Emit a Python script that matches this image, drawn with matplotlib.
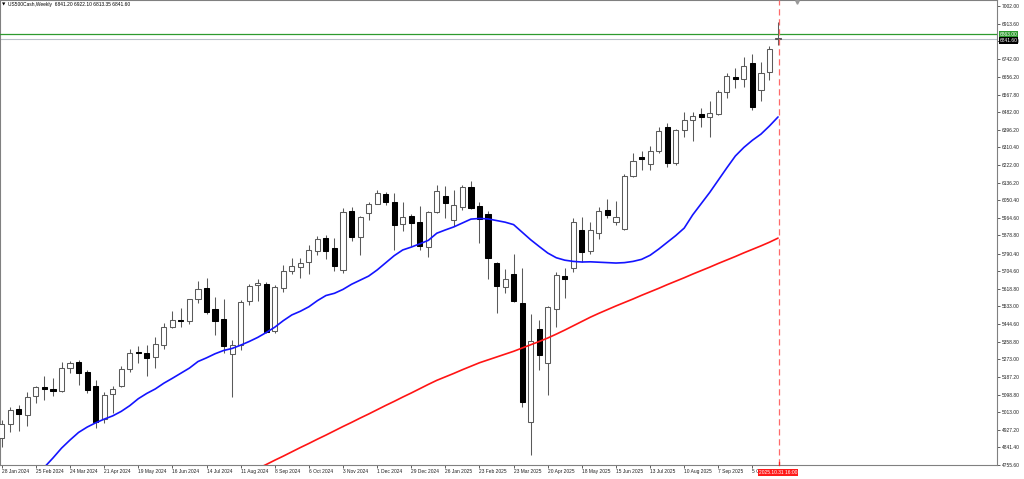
import numpy as np
import matplotlib
matplotlib.use("Agg")
import matplotlib.pyplot as plt
import matplotlib.transforms as mtransforms

plt.rcParams['font.family'] = ['Liberation Sans', 'DejaVu Sans']

# ---------------- data ----------------
symbol_title = "US500Cash,Weekly  6841.20 6922.10 6813.35 6841.60"

opens = [4886, 4958, 5028, 5000, 5093, 5135, 5128, 5120, 5232, 5262,
         5211, 5140, 4980, 5103, 5142, 5225, 5307, 5305, 5285, 5343,
         5431, 5466, 5462, 5567, 5620, 5520, 5470, 5300, 5345, 5557,
         5637, 5640, 5410, 5620, 5703, 5726, 5748, 5805, 5868, 5817,
         5712, 5998, 5872, 5990, 6035, 6082, 6045, 5935, 5974, 5945,
         5822, 5995, 6070, 5955, 6020, 6118, 6023, 5985, 5745, 5625,
         5690, 5548, 4966, 5421, 5254, 5519, 5680, 5720, 5905, 5805,
         5890, 6003, 5945, 5910, 6170, 6262, 6228, 6292, 6410, 6235,
         6395, 6444, 6473, 6460, 6475, 6582, 6656, 6645, 6725, 6590,
         6680, 6841.2]
highs = [4975, 5040, 5048, 5111, 5140, 5189, 5180, 5262, 5265, 5270,
         5222, 5170, 5114, 5140, 5239, 5325, 5340, 5345, 5380, 5450,
         5510, 5524, 5570, 5655, 5669, 5580, 5566, 5365, 5563, 5643,
         5665, 5650, 5636, 5733, 5768, 5768, 5830, 5878, 5880, 5868,
         6012, 6018, 5972, 6044, 6099, 6090, 6085, 6045, 5983, 6021,
         6000, 6128, 6120, 6101, 6127, 6147, 6044, 6000, 5750, 5715,
         5788, 5720, 5494, 5465, 5532, 5700, 5720, 5965, 5970, 5944,
         6016, 6059, 6050, 6180, 6284, 6290, 6315, 6410, 6427, 6400,
         6481, 6482, 6505, 6535, 6592, 6675, 6700, 6750, 6765, 6730,
         6808, 6922.1]
lows = [4845, 4918, 4920, 4947, 5057, 5075, 5095, 5112, 5205, 5146,
        5107, 4935, 4963, 5011, 5135, 5211, 5257, 5192, 5232, 5324,
        5424, 5433, 5448, 5546, 5497, 5390, 5302, 5090, 5318, 5538,
        5560, 5402, 5400, 5604, 5690, 5672, 5690, 5784, 5762, 5703,
        5696, 5853, 5783, 5957, 6031, 6029, 5810, 5900, 5829, 5809,
        5773, 5990, 5962, 5923, 6004, 6008, 5842, 5665, 5500, 5595,
        5553, 5040, 4804, 5220, 5098, 5430, 5575, 5700, 5750, 5790,
        5861, 5963, 5930, 5905, 6165, 6201, 6200, 6281, 6212, 6225,
        6360, 6343, 6410, 6362, 6470, 6550, 6603, 6607, 6495, 6537,
        6640, 6813.35]
closes = [4955, 5026, 5004, 5089, 5137, 5128, 5117, 5232, 5254, 5204,
          5123, 4967, 5100, 5128, 5223, 5303, 5304, 5280, 5347, 5431,
          5465, 5460, 5567, 5615, 5505, 5459, 5340, 5342, 5554, 5634,
          5648, 5408, 5626, 5703, 5730, 5746, 5810, 5862, 5805, 5729,
          5995, 5870, 5969, 6032, 6088, 6045, 5931, 5970, 5942, 5825,
          5995, 6095, 6040, 6026, 6115, 6013, 5958, 5770, 5630, 5668,
          5560, 5064, 5362, 5294, 5528, 5685, 5666, 5945, 5800, 5905,
          6000, 5977, 5968, 6168, 6245, 6255, 6292, 6390, 6233, 6395,
          6444, 6463, 6458, 6480, 6582, 6658, 6645, 6710, 6510, 6672,
          6790, 6841.6]

# blue moving average (starts at bar 4; earlier part lies below the view)
ma_blue_start = 4
ma_blue = [4700, 4745, 4790, 4838, 4878, 4915, 4941, 4962, 4980, 4996,
           5018, 5046, 5080, 5106, 5128, 5156, 5180, 5205, 5230, 5262,
           5280, 5300, 5316, 5326, 5342, 5360, 5380, 5404, 5430, 5462,
           5490, 5508, 5530, 5560, 5585, 5596, 5615, 5640, 5660, 5680,
           5710, 5745, 5780, 5808, 5822, 5838, 5855, 5890, 5906, 5921,
           5940, 5959, 5962, 5960, 5952, 5944, 5932, 5895, 5858, 5825,
           5793, 5770, 5758, 5752, 5749, 5750, 5748, 5746, 5744, 5746,
           5752, 5762, 5782, 5812, 5845, 5878, 5915, 5980, 6035, 6090,
           6150, 6210, 6268, 6310, 6345, 6375, 6415, 6459]

# red moving average (starts at bar 29; earlier part lies below the view)
ma_red_start = 29
ma_red = [4717, 4738, 4758, 4779, 4799, 4820, 4841, 4861, 4882, 4902,
          4923, 4944, 4964, 4985, 5005, 5026, 5047, 5067, 5088, 5108,
          5129, 5150, 5170, 5187, 5204, 5222, 5239, 5256, 5270, 5284,
          5298, 5312, 5328, 5344, 5360, 5377, 5396, 5416, 5437, 5458,
          5479, 5498, 5516, 5534, 5551, 5568, 5586, 5603, 5620, 5638,
          5655, 5672, 5690, 5707, 5724, 5742, 5759, 5776, 5794, 5811,
          5828, 5846, 5866]

hline_level = 6863.00
bid_level = 6841.60

y_tick_values = [7002.00, 6913.60, 6828.80, 6742.00, 6656.20, 6567.80, 6482.00,
                 6396.20, 6310.40, 6222.00, 6136.20, 6050.40, 5964.60, 5878.80,
                 5790.40, 5704.60, 5618.80, 5533.00, 5444.60, 5358.80, 5273.00,
                 5187.20, 5098.80, 5013.00, 4927.20, 4841.40, 4755.60]

x_tick_bars = [0, 4, 8, 12, 16, 20, 24, 28, 32, 36, 40, 44, 48, 52, 56, 60,
               64, 68, 72, 76, 80, 84, 88]
x_tick_labels = ["28 Jan 2024", "25 Feb 2024", "24 Mar 2024", "21 Apr 2024",
                 "19 May 2024", "16 Jun 2024", "14 Jul 2024", "11 Aug 2024",
                 "8 Sep 2024", "6 Oct 2024", "3 Nov 2024", "1 Dec 2024",
                 "29 Dec 2024", "26 Jan 2025", "23 Feb 2025", "23 Mar 2025",
                 "20 Apr 2025", "18 May 2025", "15 Jun 2025", "13 Jul 2025",
                 "10 Aug 2025", "7 Sep 2025", "5 Oct 2025"]
time_label = "2025.10.31 16:00"

# ---------------- figure ----------------
W, H = 1024, 479
fig = plt.figure(figsize=(W / 100, H / 100), dpi=100)
fig.patch.set_facecolor('white')
ax = fig.add_axes([0 / W, 14 / H, 997 / W, 465 / H])
ax.set_facecolor('white')

px_per_bar = 8.53
ax.set_xlim(-1.8 / px_per_bar, (997 - 1.8) / px_per_bar)
ax.set_ylim(4757.0, 7031.3)

o = np.array(opens, float)
h = np.array(highs, float)
l = np.array(lows, float)
c = np.array(closes, float)
idx = np.arange(len(o))

wick_col = '#5a5a5a'
# wicks
ax.vlines(idx, l, h, colors=wick_col, linewidth=0.75, zorder=2)
# bodies
up = c >= o
bottom = np.minimum(o, c)
height = np.maximum(np.abs(c - o), 3.0)
ax.bar(idx[up], height[up], bottom=bottom[up], width=0.6,
       color='white', edgecolor=wick_col, linewidth=0.75, zorder=3)
ax.bar(idx[~up], height[~up], bottom=bottom[~up], width=0.6,
       color='black', edgecolor='black', linewidth=0.75, zorder=3)

# moving averages
ax.plot(np.arange(ma_blue_start, ma_blue_start + len(ma_blue)), ma_blue,
        color='#1414ff', linewidth=1.2, zorder=4, solid_capstyle='round')
ax.plot(np.arange(ma_red_start, ma_red_start + len(ma_red)), ma_red,
        color='#ff1414', linewidth=1.2, zorder=4, solid_capstyle='round')

# horizontal lines
ax.axhline(hline_level, color='#2e9a2e', linewidth=0.9, zorder=5)
ax.axhline(bid_level, color='#b8c0c8', linewidth=0.8, zorder=1)

# vertical dashed line at current bar
vx = len(o) - 1 + 0.1
ax.axvline(vx, color='#ff6a6a', linewidth=0.9, dashes=(5, 3), zorder=6)
# red tick mark on the time axis
ax.plot([vx, vx], [0.0, 0.006], color='#ff2020', linewidth=0.9,
        transform=mtransforms.blended_transform_factory(ax.transData, ax.transAxes),
        zorder=7, clip_on=False)
# small chart-shift marker at the top
ax.plot([93.2], [0.995], marker='v', markersize=2.5, color='#9a9a9a',
        transform=mtransforms.blended_transform_factory(ax.transData, ax.transAxes),
        zorder=7, clip_on=False)

# spines
for s in ax.spines.values():
    s.set_color('#808080')
    s.set_linewidth(0.8)

# y axis on the right
ax.yaxis.tick_right()
ax.set_yticks(y_tick_values)
ax.set_yticklabels(["%.2f" % v for v in y_tick_values])
ax.tick_params(axis='y', direction='out', length=2.0, width=0.5, pad=1.2,
               labelsize=3.5, colors='#202020')

# x axis
ax.set_xticks(x_tick_bars)
ax.set_xticklabels(x_tick_labels)
for lab in ax.get_xticklabels():
    lab.set_horizontalalignment('left')
ax.tick_params(axis='x', direction='out', length=2.5, width=0.5, pad=0.6,
               labelsize=3.5, colors='#202020')

# right-axis price boxes
ytrans = mtransforms.blended_transform_factory(ax.transAxes, ax.transData)
ax.text(1.0025, hline_level, "%.2f" % hline_level, transform=ytrans,
        ha='left', va='center', fontsize=3.5, color='white', zorder=10,
        bbox=dict(boxstyle='square,pad=0.2', fc='#2e9a2e', ec='none'),
        clip_on=False)
ax.text(1.0025, bid_level - 8, "%.2f" % bid_level, transform=ytrans,
        ha='left', va='center', fontsize=3.5, color='white', zorder=11,
        bbox=dict(boxstyle='square,pad=0.2', fc='black', ec='none'),
        clip_on=False)

# time label box under the dashed line
xtrans = mtransforms.blended_transform_factory(ax.transData, ax.transAxes)
ax.text(88.75, -0.0110, time_label, transform=xtrans, ha='left', va='top',
        fontsize=3.5, color='white', zorder=12, clip_on=False,
        bbox=dict(boxstyle='square,pad=0.25', fc='#ff1a1a', ec='none'))

# title
fig.text(2 / W, 1 - 4.5 / H, "\u25BC", fontsize=3.2, color='black',
         ha='left', va='center', family=['DejaVu Sans'])
fig.text(8 / W, 1 - 4.5 / H, symbol_title, fontsize=3.5, color='black',
         ha='left', va='center')

fig.savefig('out.png', dpi=100, facecolor='white')
